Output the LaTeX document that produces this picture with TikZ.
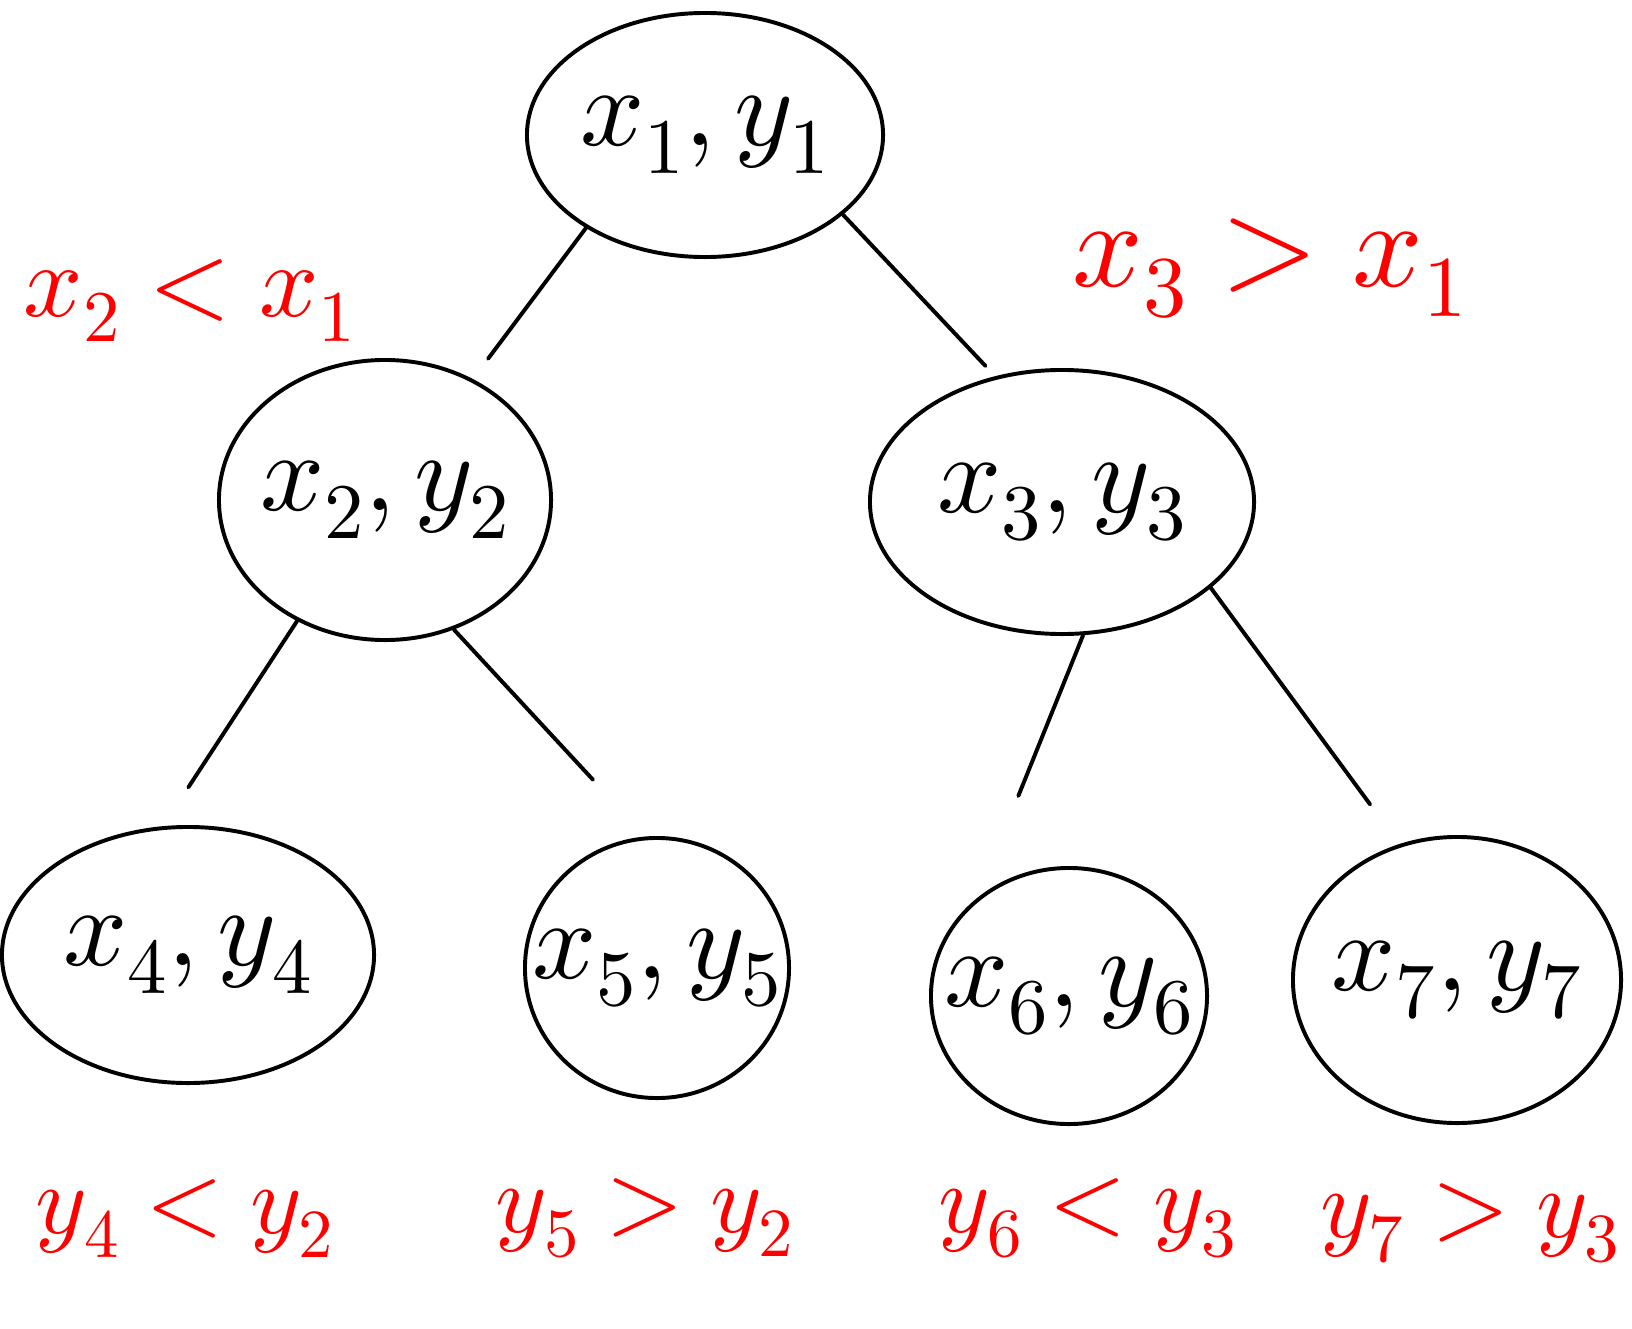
\documentclass[tikz,border=0pt]{standalone}
\usepackage{unicode-math}
\usetikzlibrary{shapes.geometric}
\tikzset{
  keynode/.style={draw, ellipse, line width=2.8pt, inner sep=0pt},
  keytext/.style={font=\fontsize{80}{80}\selectfont},
  treeedge/.style={line width=2.8pt, line cap=round},
  condlabel/.style={red, font=\fontsize{70}{70}\selectfont},
}
\begin{document}
\begin{tikzpicture}[x=0.025cm, y=-0.025cm]
  \useasboundingbox (0,0) rectangle (1632,1329);

  % Tree nodes
  \node[keynode, minimum width=8.9cm, minimum height=6.1cm] (n1) at (705,135) {};
  \node[keynode, minimum width=8.3cm, minimum height=7.0cm] (n2) at (385,500) {};
  \node[keynode, minimum width=9.6cm, minimum height=6.6cm] (n3) at (1062,502) {};
  \node[keynode, minimum width=9.3cm, minimum height=6.4cm] (n4) at (188,955) {};
  \node[keynode, minimum width=6.6cm, minimum height=6.5cm] (n5) at (657,968) {};
  \node[keynode, minimum width=6.9cm, minimum height=6.4cm] (n6) at (1069,996) {};
  \node[keynode, minimum width=8.2cm, minimum height=7.15cm] (n7) at (1457,980) {};

  \node[keytext] (t1) at (n1) {$x_1, y_1$};
  \node[keytext] (t2) at (n2) {$x_2, y_2$};
  \node[keytext] (t3) at (n3) {$x_3, y_3$};
  \node[keytext] (t4) at (n4) {$x_4, y_4$};
  \node[keytext] (t5) at (n5) {$x_5, y_5$};
  \node[keytext] (t6) at (n6) {$x_6, y_6$};
  \node[keytext] (t7) at (n7) {$x_7, y_7$};

  % Edges (they stop short of the child)
  \draw[treeedge, shorten >=18pt] (n1.-142) -- (n2.54);
  \draw[treeedge, shorten >=10pt] (n1.-30) -- (n3.118);
  \draw[treeedge, shorten >=33pt] (n2.-126) -- (n4.101);
  \draw[treeedge, shorten >=55pt] (n2.-62) -- (n5.95);
  \draw[treeedge, shorten >=78pt] (n3.-81) -- (n6.133);
  \draw[treeedge, shorten >=35pt] (n3.-30) -- (n7.113);

  % Split conditions
  \node[condlabel, font=\fontsize{74}{74}\selectfont] (c2) at (190,300) {$x_2 < x_1$};
  \node[condlabel, font=\fontsize{88}{88}\selectfont] (c3) at (1270,268) {$x_3 > x_1$};
  \node[condlabel] (c4) at (185,1218) {$y_4 < y_2$};
  \node[condlabel] (c5) at (645,1218) {$y_5 > y_2$};
  \node[condlabel] (c6) at (1088,1218) {$y_6 < y_3$};
  \node[condlabel] (c7) at (1470,1223) {$y_7 > y_3$};
\end{tikzpicture}
\end{document}
